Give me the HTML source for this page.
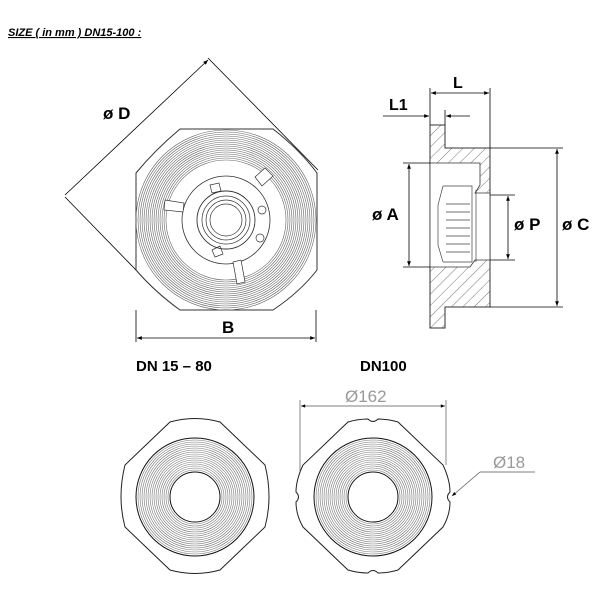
<!DOCTYPE html>
<html><head><style>
body{margin:0;background:#fff}
svg{display:block}
.b{font-family:"Liberation Sans",sans-serif;font-weight:bold;fill:#000}
</style></head><body>
<svg width="600" height="600" viewBox="0 0 600 600" xmlns="http://www.w3.org/2000/svg">
<defs>
<marker id="a" viewBox="0 0 10 10" refX="10" refY="5" markerWidth="8" markerHeight="6" orient="auto-start-reverse"><path d="M0,1L10,5L0,9z" fill="#000"/></marker>
<pattern id="h" width="8" height="8" patternUnits="userSpaceOnUse" patternTransform="rotate(45)"><line x1="0" y1="0" x2="0" y2="8" stroke="#555" stroke-width="0.8"/></pattern>
<g id="r">
<circle r="27"/><circle r="29"/><circle r="31"/><circle r="33"/><circle r="35"/><circle r="37"/><circle r="39"/><circle r="41"/><circle r="43"/><circle r="45"/><circle r="47"/><circle r="49"/><circle r="51"/><circle r="53"/><circle r="55"/><circle r="57"/>
</g>
</defs>
<text x="8" y="36" class="b" font-size="11" font-style="italic" text-decoration="underline">SIZE ( in mm ) DN15-100 :</text>

<!-- top-left view -->
<g fill="none" stroke="#333">
<path d="M180,129 L273,129 Q300,150 317,173 L317,270 Q300,292 273,310 L180,310 Q155,292 136,270 L136,173 Q155,150 180,129 Z" fill="#fff" stroke-width="1"/>
<g stroke="#666" stroke-width="0.6">
<circle cx="226" cy="220" r="60"/><circle cx="226" cy="220" r="62"/><circle cx="226" cy="220" r="64"/><circle cx="226" cy="220" r="66"/><circle cx="226" cy="220" r="68"/><circle cx="226" cy="220" r="70"/><circle cx="226" cy="220" r="72"/><circle cx="226" cy="220" r="74"/><circle cx="226" cy="220" r="76"/><circle cx="226" cy="220" r="78"/><circle cx="226" cy="220" r="80"/><circle cx="226" cy="220" r="82"/><circle cx="226" cy="220" r="84"/><circle cx="226" cy="220" r="86"/><circle cx="226" cy="220" r="88"/><circle cx="226" cy="220" r="90"/>
</g>
<circle cx="226" cy="220" r="44" stroke-width="0.8"/>
<path d="M165,200 L184,203 L183,212 L164,210Z M255,177 L265,168 L273,176 L262,186Z M233,262 L241,260 L245,282 L237,284Z M210,185 L219,183 L221,191 L212,193Z M212,250 L220,246 L223,254 L215,257Z" fill="#fff" stroke-width="0.7"/>
<circle cx="226" cy="220" r="29" stroke-width="0.9"/>
<circle cx="226" cy="220" r="24" stroke-width="0.7"/>
<circle cx="226" cy="220" r="20" stroke-width="0.7"/>
<circle cx="226" cy="220" r="16" stroke-width="0.7"/>
<circle cx="262" cy="210" r="4" stroke-width="0.7"/><circle cx="260" cy="238" r="4" stroke-width="0.7"/>
</g>
<g stroke="#000" stroke-width="0.8" fill="none">
<line x1="65" y1="195" x2="208" y2="60" marker-end="url(#a)"/>
<line x1="208" y1="58" x2="318" y2="170"/>
<line x1="65" y1="197" x2="136" y2="270"/>
<line x1="136" y1="310" x2="136" y2="342"/><line x1="316" y1="310" x2="316" y2="342"/>
<line x1="137" y1="338" x2="315" y2="338" marker-start="url(#a)" marker-end="url(#a)"/>
</g>
<text x="103" y="119" class="b" font-size="17">ø D</text>
<text x="222" y="333" class="b" font-size="17">B</text>
<text x="136" y="371" class="b" font-size="15">DN 15 – 80</text>
<text x="360" y="371" class="b" font-size="15">DN100</text>

<!-- side view -->
<path d="M430,125 L445,125 L445,148 L490,148 L490,307 L445,307 L445,328 L430,328 Z" fill="url(#h)" stroke="#333" stroke-width="1"/>
<path d="M430,163 L480,163 L480,185 L475,193 L490,193 L490,260 L475,260 L470,267 L430,267 Z" fill="#fff" stroke="#333" stroke-width="0.8"/>
<g fill="none" stroke="#444" stroke-width="0.7">
<path d="M443,186 L438,205 L438,245 L443,262 M443,186 L472,186 L472,262 L443,262"/>
<path d="M446,204 h24 M446,212 h24 M446,220 h24 M446,228 h24 M446,236 h24 M446,244 h24 M446,252 h24"/>
<line x1="476" y1="190" x2="476" y2="262"/>
</g>
<g stroke="#000" stroke-width="0.8" fill="none">
<line x1="430" y1="88" x2="430" y2="125"/><line x1="490" y1="88" x2="490" y2="148"/><line x1="445" y1="110" x2="445" y2="125"/>
<line x1="431" y1="93" x2="489" y2="93" marker-start="url(#a)" marker-end="url(#a)"/>
<line x1="383" y1="116" x2="429" y2="116" marker-end="url(#a)"/><line x1="470" y1="116" x2="446" y2="116" marker-end="url(#a)"/>
<line x1="403" y1="163" x2="430" y2="163"/><line x1="403" y1="267" x2="430" y2="267"/>
<line x1="409" y1="164" x2="409" y2="266" marker-start="url(#a)" marker-end="url(#a)"/>
<line x1="490" y1="195" x2="515" y2="195"/><line x1="490" y1="260" x2="515" y2="260"/>
<line x1="508" y1="196" x2="508" y2="259" marker-start="url(#a)" marker-end="url(#a)"/>
<line x1="490" y1="148" x2="563" y2="148"/><line x1="490" y1="307" x2="563" y2="307"/>
<line x1="557" y1="149" x2="557" y2="306" marker-start="url(#a)" marker-end="url(#a)"/>
</g>
<text x="453" y="88" class="b" font-size="16">L</text>
<text x="389" y="110" class="b" font-size="16">L1</text>
<text x="372" y="220" class="b" font-size="17">ø A</text>
<text x="514" y="230" class="b" font-size="17">ø P</text>
<text x="562" y="230" class="b" font-size="17">ø C</text>

<!-- bottom views -->
<g fill="none" stroke="#222" stroke-width="1">
<path d="M170,422 Q195,415 220,422 L265,465 Q273,497 265,527 L220,570 Q195,577 170,570 L125,527 Q117,497 125,465 Z"/>
<path d="M348,422 Q358,419 368,419 Q373,424 378,419 Q388,419 398,422 L443,465 Q450,480 450,492 Q445,497 450,502 Q450,515 443,527 L398,570 Q388,573 378,573 Q373,568 368,573 Q358,573 348,570 L303,527 Q296,515 296,502 Q301,497 296,492 Q296,480 303,465 Z"/>
</g>
<g fill="none" stroke="#777" stroke-width="0.6" transform="translate(195,497)"><use href="#r"/></g>
<g fill="none" stroke="#777" stroke-width="0.6" transform="translate(373,497)"><use href="#r"/></g>
<g fill="none" stroke="#111" stroke-width="1">
<circle cx="195" cy="497" r="25"/><circle cx="195" cy="497" r="59"/>
<circle cx="373" cy="497" r="25"/><circle cx="373" cy="497" r="59"/>
</g>
<g stroke="#555" stroke-width="0.7" fill="none">
<line x1="300" y1="400" x2="300" y2="472"/><line x1="446" y1="400" x2="446" y2="465"/>
<line x1="301" y1="406" x2="445" y2="406" marker-start="url(#a)" marker-end="url(#a)"/>
<line x1="535" y1="472" x2="480" y2="472"/><line x1="480" y1="472" x2="452" y2="496" marker-end="url(#a)"/>
</g>
<text x="345" y="402" font-family="Liberation Sans,sans-serif" font-size="17" fill="#999">Ø162</text>
<text x="493" y="468" font-family="Liberation Sans,sans-serif" font-size="17" fill="#999">Ø18</text>
</svg>
</body></html>
